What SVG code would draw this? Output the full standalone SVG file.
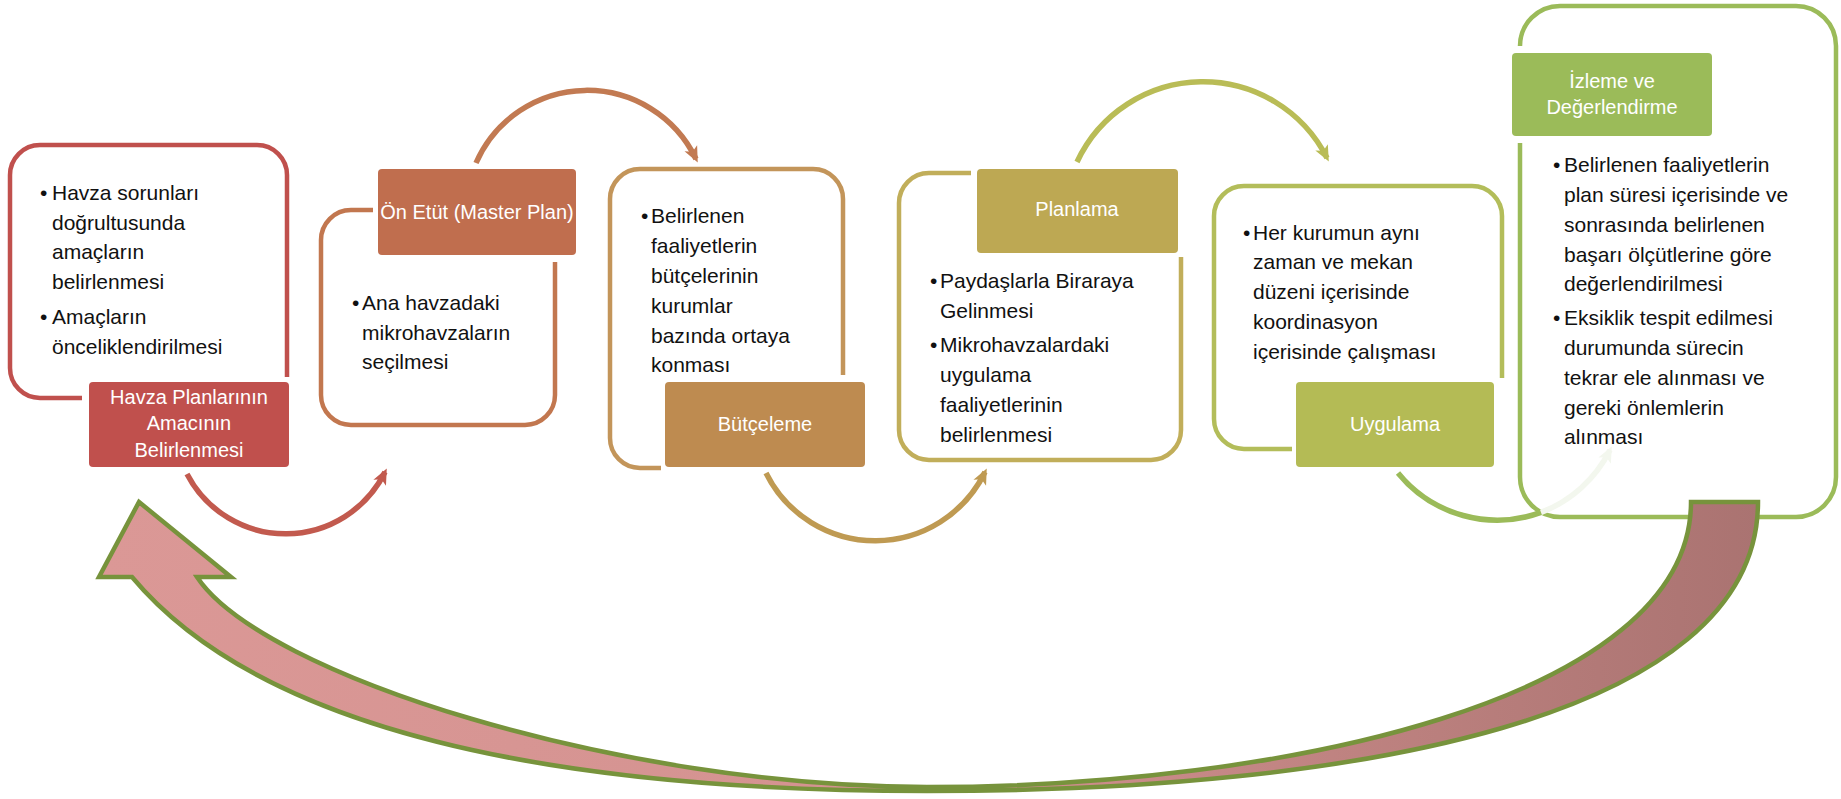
<svg xmlns="http://www.w3.org/2000/svg" width="1841" height="799" viewBox="0 0 1841 799">
<style>
.body{font-family:"Liberation Sans",Arial,sans-serif;font-size:21px;fill:#111}
.lbl{font-family:"Liberation Sans",Arial,sans-serif;font-size:20px;fill:#fff;text-anchor:middle}
.ol{fill:none;stroke-width:4.5;stroke-linecap:butt}
.arc{fill:none;stroke-width:5.5}
.big{stroke:#77933C;stroke-width:4.5;stroke-linejoin:miter;fill:url(#bigGrad)}
</style>
<defs>
<marker id="m1" viewBox="0 0 16 16" refX="12" refY="8" markerWidth="16" markerHeight="16" markerUnits="userSpaceOnUse" orient="auto"><path d="M0,1 L16,8 L0,15 L4,8 Z" fill="#C25A4E"/></marker>
<marker id="m2" viewBox="0 0 16 16" refX="12" refY="8" markerWidth="16" markerHeight="16" markerUnits="userSpaceOnUse" orient="auto"><path d="M0,1 L16,8 L0,15 L4,8 Z" fill="#C27A52"/></marker>
<marker id="m3" viewBox="0 0 16 16" refX="12" refY="8" markerWidth="16" markerHeight="16" markerUnits="userSpaceOnUse" orient="auto"><path d="M0,1 L16,8 L0,15 L4,8 Z" fill="#BF9A52"/></marker>
<marker id="m4" viewBox="0 0 16 16" refX="12" refY="8" markerWidth="16" markerHeight="16" markerUnits="userSpaceOnUse" orient="auto"><path d="M0,1 L16,8 L0,15 L4,8 Z" fill="#B9BC56"/></marker>
<marker id="m5" viewBox="0 0 16 16" refX="12" refY="8" markerWidth="16" markerHeight="16" markerUnits="userSpaceOnUse" orient="auto"><path d="M0,1 L16,8 L0,15 L4,8 Z" fill="#F3F7EE"/></marker>
<linearGradient id="bigGrad" gradientUnits="userSpaceOnUse" x1="100" y1="0" x2="1760" y2="0">
<stop offset="0" stop-color="#DB9896"/>
<stop offset="0.5" stop-color="#D39290"/>
<stop offset="1" stop-color="#AA7371"/>
</linearGradient>
</defs>
<rect width="1841" height="799" fill="#fff"/>

<g id="node-havza-planlari">
<path class="ol" stroke="#C0504D" d="M82,398 H40 A30,30 0 0 1 10,368 V175 A30,30 0 0 1 40,145 H257 A30,30 0 0 1 287,175 V377"/>
<rect x="89" y="382" width="200" height="85" rx="4" fill="#C0504D"/>
<text class="lbl"><tspan x="189" y="404">Havza Planlarının</tspan><tspan x="189" y="430">Amacının</tspan><tspan x="189" y="457">Belirlenmesi</tspan></text>
<text class="body"><tspan x="40" y="200">•</tspan><tspan x="52" y="200">Havza sorunları</tspan><tspan x="52" y="230">doğrultusunda</tspan><tspan x="52" y="259">amaçların</tspan><tspan x="52" y="289">belirlenmesi</tspan><tspan x="40" y="324">•</tspan><tspan x="52" y="324">Amaçların</tspan><tspan x="52" y="354">önceliklendirilmesi</tspan></text>
</g>

<g id="node-on-etut">
<path class="ol" stroke="#C2774F" d="M373,210 H351 A30,30 0 0 0 321,240 V395 A30,30 0 0 0 351,425 H525 A30,30 0 0 0 555,395 V262"/>
<rect x="378" y="169" width="198" height="86" rx="4" fill="#C06E4E"/>
<text class="lbl" x="477" y="219">Ön Etüt (Master Plan)</text>
<text class="body"><tspan x="352" y="310">•</tspan><tspan x="362" y="310">Ana havzadaki</tspan><tspan x="362" y="340">mikrohavzaların</tspan><tspan x="362" y="369">seçilmesi</tspan></text>
</g>

<g id="node-butceleme">
<path class="ol" stroke="#C3955A" d="M661,468 H640 A30,30 0 0 1 610,438 V199 A30,30 0 0 1 640,169 H813 A30,30 0 0 1 843,199 V375"/>
<rect x="665" y="382" width="200" height="85" rx="4" fill="#BE8B50"/>
<text class="lbl" x="765" y="431">Bütçeleme</text>
<text class="body"><tspan x="641" y="223">•</tspan><tspan x="651" y="223">Belirlenen</tspan><tspan x="651" y="253">faaliyetlerin</tspan><tspan x="651" y="283">bütçelerinin</tspan><tspan x="651" y="313">kurumlar</tspan><tspan x="651" y="343">bazında ortaya</tspan><tspan x="651" y="372">konması</tspan></text>
</g>

<g id="node-planlama">
<path class="ol" stroke="#C1AE5A" d="M971,173 H929 A30,30 0 0 0 899,203 V430 A30,30 0 0 0 929,460 H1151 A30,30 0 0 0 1181,430 V257"/>
<rect x="977" y="169" width="201" height="84" rx="4" fill="#BDA853"/>
<text class="lbl" x="1077" y="216">Planlama</text>
<text class="body"><tspan x="930" y="288">•</tspan><tspan x="940" y="288">Paydaşlarla Biraraya</tspan><tspan x="940" y="318">Gelinmesi</tspan><tspan x="930" y="352">•</tspan><tspan x="940" y="352">Mikrohavzalardaki</tspan><tspan x="940" y="382">uygulama</tspan><tspan x="940" y="412">faaliyetlerinin</tspan><tspan x="940" y="442">belirlenmesi</tspan></text>
</g>

<g id="node-uygulama">
<path class="ol" stroke="#B3BD5A" d="M1292,449 H1244 A30,30 0 0 1 1214,419 V216 A30,30 0 0 1 1244,186 H1472 A30,30 0 0 1 1502,216 V378"/>
<rect x="1296" y="382" width="198" height="85" rx="4" fill="#B4BB55"/>
<text class="lbl" x="1395" y="431">Uygulama</text>
<text class="body"><tspan x="1243" y="240">•</tspan><tspan x="1253" y="240">Her kurumun aynı</tspan><tspan x="1253" y="269">zaman ve mekan</tspan><tspan x="1253" y="299">düzeni içerisinde</tspan><tspan x="1253" y="329">koordinasyon</tspan><tspan x="1253" y="359">içerisinde çalışması</tspan></text>
</g>

<g id="node-izleme">
<path class="ol" stroke="#9BBB59" d="M1520,143 V477 A40,40 0 0 0 1560,517 H1796 A40,40 0 0 0 1836,477 V46 A40,40 0 0 0 1796,6 H1560 A40,40 0 0 0 1520,46"/>
<rect x="1512" y="53" width="200" height="83" rx="4" fill="#9BBB59"/>
<text class="lbl"><tspan x="1612" y="88">İzleme ve</tspan><tspan x="1612" y="114">Değerlendirme</tspan></text>
<text class="body"><tspan x="1553" y="172">•</tspan><tspan x="1564" y="172">Belirlenen faaliyetlerin</tspan><tspan x="1564" y="202">plan süresi içerisinde ve</tspan><tspan x="1564" y="232">sonrasında belirlenen</tspan><tspan x="1564" y="262">başarı ölçütlerine göre</tspan><tspan x="1564" y="291">değerlendirilmesi</tspan><tspan x="1553" y="325">•</tspan><tspan x="1564" y="325">Eksiklik tespit edilmesi</tspan><tspan x="1564" y="355">durumunda sürecin</tspan><tspan x="1564" y="385">tekrar ele alınması ve</tspan><tspan x="1564" y="415">gereki önlemlerin</tspan><tspan x="1564" y="444">alınması</tspan></text>
</g>

<g id="connectors">
<path class="arc" stroke="#C25A4E" marker-end="url(#m1)" d="M187,474 A111,111 0 0 0 385,472"/>
<path class="arc" stroke="#C27A52" marker-end="url(#m2)" d="M476,163 A121,121 0 0 1 696,159"/>
<path class="arc" stroke="#BF9A52" marker-end="url(#m3)" d="M766,473 A122,122 0 0 0 985,472"/>
<path class="arc" stroke="#B9BC56" marker-end="url(#m4)" d="M1077,162 A139,139 0 0 1 1327,158"/>
<path class="arc" stroke="#9BBB59" d="M1398,473 A128,128 0 0 0 1541,512.4"/>
<path class="arc" stroke="#F3F7EE" marker-end="url(#m5)" d="M1541,512.4 A128,128 0 0 0 1610,450"/>
<path class="big" d="M1758,502 C1758,720 1350,791 927,791 C550,791 260,730 132,577 L99,577 L139,502 L231,577 L197,577 C262,675 620,787 927,787 C1280,787 1691,700 1691,502 Z"/>
</g>
</svg>
